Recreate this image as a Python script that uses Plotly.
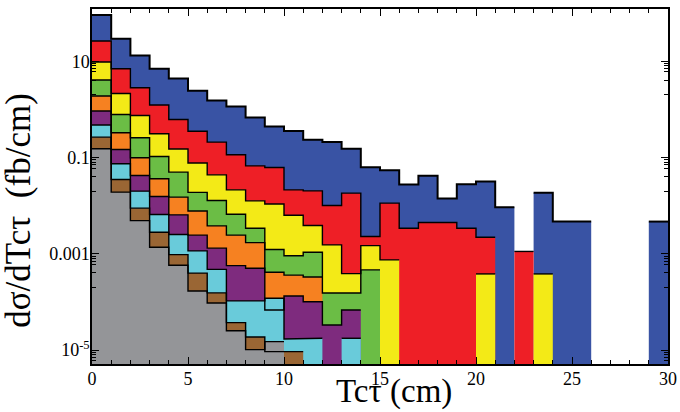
import plotly.graph_objects as go

# bin edges 0..30, width 1 (cm)
bin_edges = list(range(0, 31))

blue = [91.2, 29.4, 13.2, 6.98, 4.39, 2.44, 1.53, 1.15, 0.679, 0.441, 0.354, 0.233, 0.209, 0.152, 0.063,
        0.0542, 0.0275, 0.0417, 0.0141, 0.0277, 0.0317, 0.00922, 0, 0.01845, 0.00467, 0.00467, 0, 0, 0, 0.00467]
red = [26.3, 6.98, 2.81, 1.23, 0.617, 0.351, 0.209, 0.114, 0.0672, 0.0619, 0.0213, 0.0203, 0.01005, 0.0182, 0.00228,
       0.01127, 0.0034, 0.00446, 0.00446, 0.0034, 0.00221, 0, 0.00112, 0, 0, 0, 0, 0, 0, 0]
yellow = [9.62, 2.14, 0.746, 0.311, 0.150, 0.0769, 0.0437, 0.0213, 0.0126, 0.0108, 0.00634, 0.00386, 0.00153, 0.000388,
          0.00148, 0.000747, 0, 0, 0, 0, 0.000382, 0, 0, 0.000382, 0, 0, 0, 0, 0, 0]
green = [4.07, 0.783, 0.257, 0.105, 0.0497, 0.0189, 0.01276, 0.00665, 0.0034, 0.00123, 0.000912, 0.00108, 0.000153,
         0.000153, 0.000463, 0, 0, 0, 0, 0, 0, 0, 0, 0, 0, 0, 0, 0, 0, 0]
orange = [1.89, 0.326, 0.0986, 0.0361, 0.01503, 0.00773, 0.0038, 0.00244, 0.00171, 0.000414, 0.00036, 0.00033,
          0, 0, 0, 0, 0, 0, 0, 0, 0, 0, 0, 0, 0, 0, 0, 0, 0, 0]
purple = [0.922, 0.147, 0.0423, 0.01545, 0.00644, 0.00244, 0.00131, 0.000569, 0.000502, 6.8e-5, 1.33e-4, 1.01e-4,
          3.33e-5, 6.8e-5, 0, 0, 0, 0, 0, 0, 0, 0, 0, 0, 0, 0, 0, 0, 0, 0]
cyan = [0.472, 0.074, 0.02, 0.00653, 0.00251, 0.00115, 0.000474, 1.05e-4, 1.05e-4, 1.19e-4, 1.70e-5, 1.76e-5,
        0, 1.76e-5, 0, 0, 0, 0, 0, 0, 0, 0, 0, 0, 0, 0, 0, 0, 0, 0]
brown = [0.265, 0.0349, 0.00887, 0.00281, 0.000962, 0.000397, 0.000154, 3.72e-5, 1.87e-5, 9.3e-6, 9.3e-6,
         0, 0, 0, 0, 0, 0, 0, 0, 0, 0, 0, 0, 0, 0, 0, 0, 0, 0, 0]
gray = [0.152, 0.0191, 0.0049, 0.00137, 0.00058, 0.000169, 9.53e-5, 2.53e-5, 1.02e-5, 1.5e-5,
        0, 0, 0, 0, 0, 0, 0, 0, 0, 0, 0, 0, 0, 0, 0, 0, 0, 0, 0, 0]

series = [
    ("blue", blue, "#3953A4"),
    ("red", red, "#EE1F26"),
    ("yellow", yellow, "#F3EA17"),
    ("green", green, "#6BBD45"),
    ("orange", orange, "#F68121"),
    ("purple", purple, "#7E2B7E"),
    ("cyan", cyan, "#69CBDA"),
    ("brown", brown, "#9A6634"),
    ("gray", gray, "#949598"),
]

x_tick_vals = [0, 5, 10, 15, 20, 25, 30]
y_tick_vals = [10, 0.1, 0.001, 1e-5]
y_tick_text = ["10", "0.1", "0.001", "10<sup>-5</sup>"]

BASE = 1e-9  # below visible range


def step_polygon(vals):
    xs, ys = [bin_edges[0]], [BASE]
    for i, v in enumerate(vals):
        vv = v if v > 0 else BASE
        xs += [bin_edges[i], bin_edges[i + 1]]
        ys += [vv, vv]
    xs.append(bin_edges[-1])
    ys.append(BASE)
    return xs, ys


def step_outline(vals):
    xs, ys = [], []
    prev = 0
    for i, v in enumerate(vals):
        if v > 0:
            xs += [bin_edges[i], bin_edges[i + 1]]
            ys += [v, v]
        elif prev > 0:
            xs.append(None)
            ys.append(None)
        prev = v
    return xs, ys


fig = go.Figure()
for name, vals, col in series:
    xs, ys = step_polygon(vals)
    fig.add_trace(go.Scatter(x=xs, y=ys, mode="lines", fill="toself", fillcolor=col,
                             line=dict(width=0, color=col), hoverinfo="skip", showlegend=False, name=name))
for name, vals, col in series:
    xs, ys = step_outline(vals)
    fig.add_trace(go.Scatter(x=xs, y=ys, mode="lines",
                             line=dict(width=2.0 if name == "blue" else 1.4, color="black"),
                             hoverinfo="skip", showlegend=False, connectgaps=False))

minor_y = []
for V in y_tick_vals:
    for k in (0.2, 0.4, 0.6, 0.7, 0.8, 0.9):
        minor_y.append(k * V)

serif = "Liberation Serif"
fig.update_layout(
    width=680, height=412,
    margin=dict(l=92, r=12, t=9, b=48, autoexpand=False),
    paper_bgcolor="white", plot_bgcolor="white",
    font=dict(family=serif, color="black", size=18),
    xaxis=dict(range=[0, 30], tickvals=x_tick_vals, ticks="inside", ticklen=7, tickwidth=1.2,
               tickcolor="black", showline=True, linecolor="black", linewidth=1.5, mirror="ticks",
               showgrid=False, zeroline=False, tickfont=dict(size=18, family=serif), automargin=False,
               ticklabelstandoff=-2,
               minor=dict(dtick=1, tick0=0, ticks="inside", ticklen=4, tickcolor="black", tickwidth=1)),
    yaxis=dict(type="log", range=[-5.289, 2.085], tickvals=y_tick_vals, ticktext=y_tick_text,
               ticks="inside", ticklen=7, tickwidth=1.2, tickcolor="black", showline=True,
               linecolor="black", linewidth=1.5, mirror="ticks", showgrid=False, zeroline=False,
               tickfont=dict(size=18, family=serif), automargin=False, ticklabelstandoff=-3,
               minor=dict(tickvals=minor_y, ticks="inside", ticklen=4, tickcolor="black", tickwidth=1)),
    annotations=[
        dict(text="Tcτ (cm)", xref="paper", yref="paper", x=0.524, y=-0.135, xanchor="center",
             yanchor="bottom", showarrow=False, font=dict(size=33, family=serif)),
        dict(text="dσ/dTcτ  (fb/cm)", xref="paper", yref="paper", x=-0.127, y=0.434, xanchor="center",
             yanchor="middle", textangle=-90, showarrow=False, font=dict(size=35, family=serif)),
    ],
)

fig.write_html("out.html")
